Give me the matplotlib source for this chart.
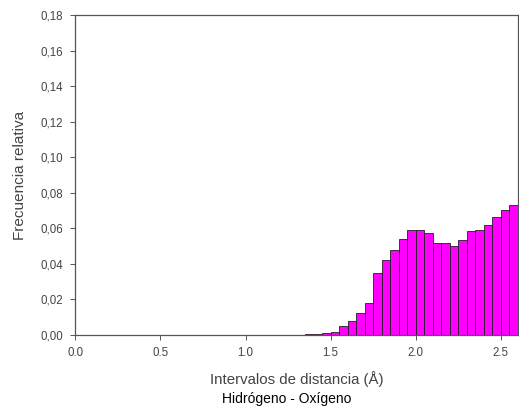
import matplotlib
matplotlib.use("Agg")
import matplotlib.pyplot as plt
from matplotlib.ticker import FuncFormatter

plt.rcParams['font.family'] = ['Liberation Sans', 'DejaVu Sans']

# Left edge of each distance interval (A) and its relative frequency
bin_start = [1.25, 1.30, 1.35, 1.40, 1.45, 1.50, 1.55, 1.60, 1.65, 1.70,
             1.75, 1.80, 1.85, 1.90, 1.95, 2.00, 2.05, 2.10, 2.15, 2.20,
             2.25, 2.30, 2.35, 2.40, 2.45, 2.50, 2.55]
freq = [0.0001, 0.0002, 0.0004, 0.0006, 0.0010, 0.0018, 0.0053, 0.0080,
        0.0126, 0.0180, 0.0350, 0.0420, 0.0480, 0.0540, 0.0590, 0.0590,
        0.0575, 0.0515, 0.0515, 0.0500, 0.0534, 0.0585, 0.0590, 0.0617,
        0.0666, 0.0704, 0.0730]
bin_width = 0.05

fig = plt.figure(figsize=(5.19, 4.12), dpi=100)
ax = fig.add_axes([0.145, 0.187, 0.853, 0.776])

ax.bar(bin_start, freq, width=bin_width, align='edge',
       color='#ff00ff', edgecolor='#202020', linewidth=0.6)

ax.set_xlim(0, 2.6)
ax.set_ylim(0, 0.18)
ax.set_xticks([0.0, 0.5, 1.0, 1.5, 2.0, 2.5])
ax.set_yticks([0.00, 0.02, 0.04, 0.06, 0.08, 0.10, 0.12, 0.14, 0.16, 0.18])
ax.xaxis.set_major_formatter(FuncFormatter(lambda v, p: f"{v:.1f}"))
ax.yaxis.set_major_formatter(FuncFormatter(lambda v, p: f"{v:.2f}".replace('.', ',')))

for s in ax.spines.values():
    s.set_color('#555555')
    s.set_linewidth(0.9)
ax.tick_params(direction='out', length=3.5, width=0.7, colors='#555555',
               labelsize=8.3, labelcolor='#444444', pad=5)

ax.set_ylabel('Frecuencia relativa', fontsize=11, color='#444444', labelpad=10)
ax.set_xlabel('Intervalos de distancia (Å)', fontsize=10.8, color='#444444', labelpad=9)
fig.text(0.553, 0.022, 'Hidrógeno - Oxígeno', fontsize=10, ha='center', color='black')

fig.savefig('out.png', dpi=100)
